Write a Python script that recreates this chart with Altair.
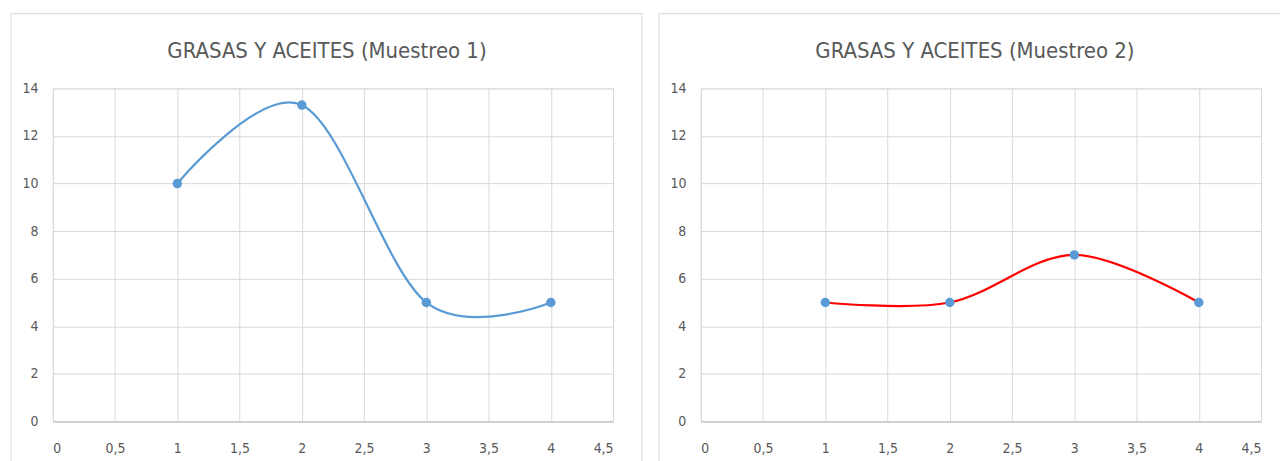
import altair as alt
import pandas as pd

# ---- data ----
x_vals = [1, 2, 3, 4]
muestreo1 = [10, 13.3, 5, 5]
muestreo2 = [5, 5, 7, 5]
x_ticks = [0, 0.5, 1, 1.5, 2, 2.5, 3, 3.5, 4, 4.5]
y_ticks = [0, 2, 4, 6, 8, 10, 12, 14]
titles = ["GRASAS Y ACEITES (Muestreo 1)", "GRASAS Y ACEITES (Muestreo 2)"]
line_colors = ["#5B9BD5", "#FF0000"]
point_color = "#5B9BD5"

W, H = 562, 334
FONT = "'Liberation Sans Narrow', 'DejaVu Sans Condensed', Lato"
TXT = "#595959"
GRID = "#D9D9D9"
FRAME = "#D9D9D9"


def panel(vals, title, line_color, frame_right, draw_right):
    df = pd.DataFrame({"x": x_vals, "y": vals})
    xenc = alt.X(
        "x:Q",
        scale=alt.Scale(domain=[0, 4.5], nice=False, zero=False),
        axis=alt.Axis(
            values=x_ticks, title=None, grid=True, gridColor=GRID, gridWidth=1,
            domain=True, domainColor="#BFBFBF", domainWidth=1,
            ticks=False, tickSize=0, labelPadding=20,
            labelFont=FONT, labelFontSize=14, labelColor=TXT,
            labelExpr="replace(format(datum.value, '~g'), '.', ',')",
        ),
    )
    yenc = alt.Y(
        "y:Q",
        scale=alt.Scale(domain=[0, 14], nice=False),
        axis=alt.Axis(
            values=y_ticks, title=None, grid=True, gridColor=GRID, gridWidth=1,
            domain=False, ticks=False, tickSize=0, labelPadding=15,
            labelFont=FONT, labelFontSize=14, labelColor=TXT,
        ),
    )
    base = alt.Chart(df).encode(x=xenc, y=yenc)
    line = base.mark_line(interpolate="cardinal", color=line_color, strokeWidth=2.25)
    pts = base.mark_circle(size=90, color=point_color, opacity=1)

    one = pd.DataFrame({"k": [0]})
    top = alt.Chart(one).mark_rule(color=FRAME, strokeWidth=1).encode(
        x=alt.value(-42), x2=alt.value(frame_right), y=alt.value(-75), y2=alt.value(-75))
    left = alt.Chart(one).mark_rule(color=FRAME, strokeWidth=1).encode(
        x=alt.value(-42), x2=alt.value(-42), y=alt.value(-75), y2=alt.value(374))
    layers = [top, left]
    if draw_right:
        right = alt.Chart(one).mark_rule(color=FRAME, strokeWidth=1).encode(
            x=alt.value(frame_right), x2=alt.value(frame_right), y=alt.value(-75), y2=alt.value(374))
        layers.append(right)
    return alt.layer(*layers, line, pts).properties(
        width=W, height=H,
        title=alt.TitleParams(
            title, font=FONT, fontSize=22, fontWeight="normal", color=TXT,
            baseline="middle", offset=-60, dx=-6,
        ),
    )


left_panel = panel(muestreo1, titles[0], line_colors[0], 591, True)
right_panel = panel(muestreo2, titles[1], line_colors[1], 581, False)

chart = alt.hconcat(left_panel, right_panel, spacing=15).properties(
    padding={"left": 10, "top": 12, "right": 0, "bottom": 0},
).configure_view(stroke=None).configure(background="white")

chart.save("out.html", embed_options={"renderer": "svg", "actions": False})
